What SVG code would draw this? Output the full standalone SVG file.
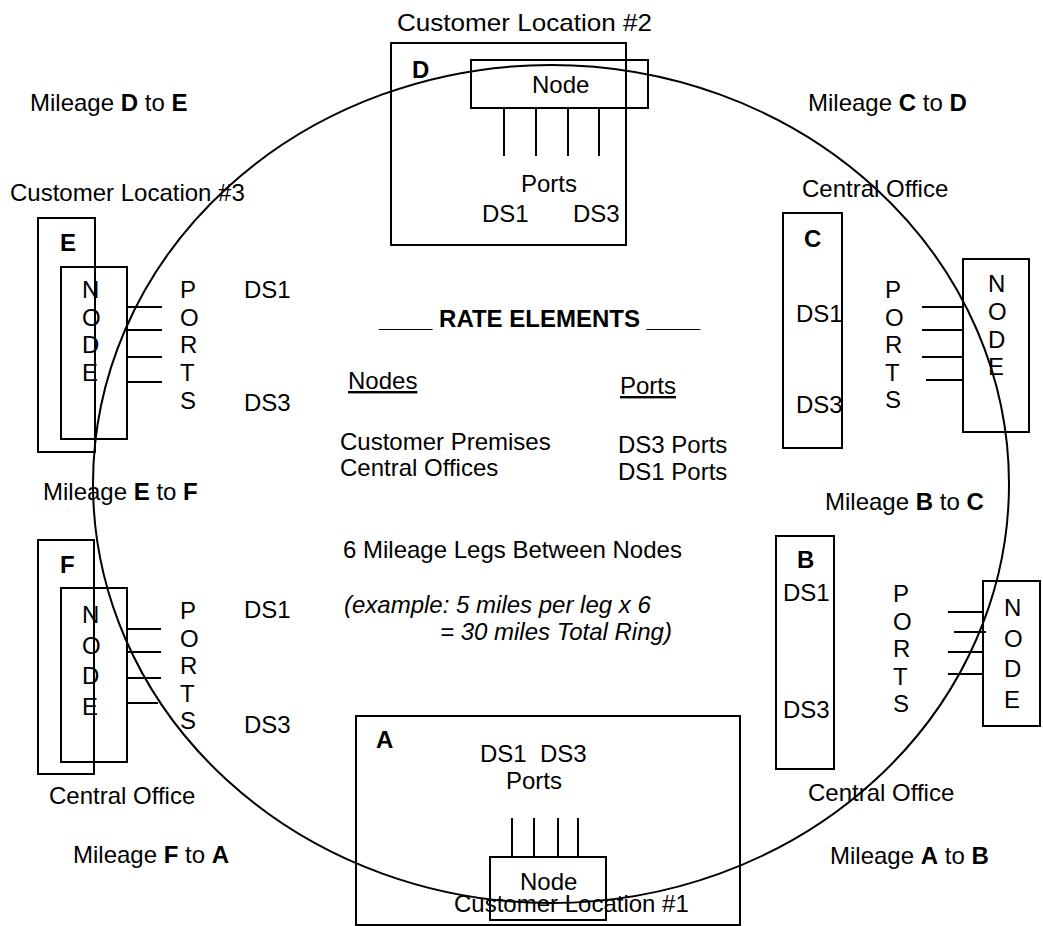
<svg xmlns="http://www.w3.org/2000/svg" width="1043" height="926" viewBox="0 0 1043 926">
<style>
text{font-family:"Liberation Sans",Arial,sans-serif;font-size:24px;fill:#000}
.b{font-weight:bold}
.i{font-style:italic}
.box{fill:none;stroke:#000;stroke-width:2}
.ln{fill:none;stroke:#000;stroke-width:2}
</style>
<rect width="1043" height="926" fill="#fff"/>

<g id="connectors">
<ellipse class="ln" cx="551" cy="484" rx="458" ry="419"/>
<text x="30" y="111">Mileage <tspan class="b">D</tspan> to <tspan class="b">E</tspan></text>
<text x="808" y="111">Mileage <tspan class="b">C</tspan> to <tspan class="b">D</tspan></text>
<text x="43" y="500">Mileage <tspan class="b">E</tspan> to <tspan class="b">F</tspan></text>
<text x="825" y="510">Mileage <tspan class="b">B</tspan> to <tspan class="b">C</tspan></text>
<text x="73" y="863">Mileage <tspan class="b">F</tspan> to <tspan class="b">A</tspan></text>
<text x="830" y="864">Mileage <tspan class="b">A</tspan> to <tspan class="b">B</tspan></text>
</g>

<g id="nodeD">
<text x="397" y="31" textLength="255" lengthAdjust="spacingAndGlyphs">Customer Location #2</text>
<rect class="box" x="391" y="43" width="235" height="202"/>
<text class="b" x="412" y="78">D</text>
<rect class="box" x="471" y="60" width="177" height="48"/>
<text x="532" y="93">Node</text>
<path class="ln" d="M504 108V156M536 108V156M568 108V156M599 108V156"/>
<text x="521" y="192">Ports</text>
<text x="482" y="222">DS1</text>
<text x="573" y="222">DS3</text>
</g>

<g id="nodeE">
<text x="10" y="201">Customer Location #3</text>
<rect class="box" x="38" y="218" width="57" height="234"/>
<text class="b" x="60" y="251">E</text>
<rect class="box" x="61" y="267" width="66" height="172"/>
<text x="82" y="298"><tspan x="82">N</tspan><tspan x="82" dy="27.7">O</tspan><tspan x="82" dy="27.7">D</tspan><tspan x="82" dy="27.7">E</tspan></text>
<path class="ln" d="M127 307H162M127 330H162M127 357H162M127 382H162"/>
<text x="180" y="298"><tspan x="180">P</tspan><tspan x="180" dy="27.7">O</tspan><tspan x="180" dy="27.7">R</tspan><tspan x="180" dy="27.7">T</tspan><tspan x="180" dy="27.7">S</tspan></text>
<text x="244" y="298">DS1</text>
<text x="244" y="411">DS3</text>
</g>

<g id="nodeF">
<rect class="box" x="38" y="540" width="56" height="234"/>
<text class="b" x="60" y="573">F</text>
<rect class="box" x="61" y="588" width="66" height="174"/>
<text x="82" y="623"><tspan x="82">N</tspan><tspan x="82" dy="30.6">O</tspan><tspan x="82" dy="30.6">D</tspan><tspan x="82" dy="30.6">E</tspan></text>
<path class="ln" d="M127 629H161M127 652H161M127 678H161M127 703H158"/>
<text x="180" y="619"><tspan x="180">P</tspan><tspan x="180" dy="27.6">O</tspan><tspan x="180" dy="27.6">R</tspan><tspan x="180" dy="27.6">T</tspan><tspan x="180" dy="27.6">S</tspan></text>
<text x="244" y="618">DS1</text>
<text x="244" y="733">DS3</text>
<text x="49" y="804">Central Office</text>
</g>

<g id="nodeC">
<text x="802" y="197">Central Office</text>
<rect class="box" x="783" y="213" width="59" height="235"/>
<text class="b" x="804" y="247">C</text>
<text x="796" y="322">DS1</text>
<text x="796" y="413">DS3</text>
<text x="885" y="298"><tspan x="885">P</tspan><tspan x="885" dy="27.5">O</tspan><tspan x="885" dy="27.5">R</tspan><tspan x="885" dy="27.5">T</tspan><tspan x="885" dy="27.5">S</tspan></text>
<path class="ln" d="M922 307H963M922 330H963M922 357H963M926 380H963"/>
<rect class="box" x="963" y="259" width="66" height="173"/>
<text x="988" y="292"><tspan x="988">N</tspan><tspan x="988" dy="27.8">O</tspan><tspan x="988" dy="27.8">D</tspan><tspan x="988" dy="27.8">E</tspan></text>
</g>

<g id="nodeB">
<rect class="box" x="776" y="536" width="58" height="233"/>
<text class="b" x="797" y="568">B</text>
<text x="783" y="601">DS1</text>
<text x="783" y="718">DS3</text>
<text x="893" y="602"><tspan x="893">P</tspan><tspan x="893" dy="27.6">O</tspan><tspan x="893" dy="27.6">R</tspan><tspan x="893" dy="27.6">T</tspan><tspan x="893" dy="27.6">S</tspan></text>
<path class="ln" d="M948 612H983M954 632H986M948 652H983M948 674H983"/>
<rect class="box" x="983" y="581" width="57" height="145"/>
<text x="1004" y="616"><tspan x="1004">N</tspan><tspan x="1004" dy="30.5">O</tspan><tspan x="1004" dy="30.5">D</tspan><tspan x="1004" dy="30.5">E</tspan></text>
<text x="808" y="801">Central Office</text>
</g>

<g id="nodeA">
<rect class="box" x="356" y="716" width="384" height="209"/>
<text class="b" x="376" y="748">A</text>
<text x="480" y="762" xml:space="preserve">DS1  DS3</text>
<text x="506" y="789">Ports</text>
<path class="ln" d="M512 818V857M534 818V857M558 818V857M578 818V857"/>
<rect class="box" x="490" y="857" width="116" height="63"/>
<text x="520" y="890">Node</text>
<text x="454" y="912">Customer Location #1</text>
</g>

<g id="legend">
<text class="b" x="379" y="327">____ RATE ELEMENTS ____</text>
<text x="348" y="389" text-decoration="underline">Nodes</text>
<text x="620" y="394" text-decoration="underline">Ports</text>
<text x="340" y="450">Customer Premises</text>
<text x="340" y="476">Central Offices</text>
<text x="618" y="453">DS3 Ports</text>
<text x="618" y="480">DS1 Ports</text>
<text x="343" y="558">6 Mileage Legs Between Nodes</text>
<text class="i" x="344" y="613">(example: 5 miles per leg x 6</text>
<text class="i" x="440" y="640">= 30 miles Total Ring)</text>
</g>
</svg>
